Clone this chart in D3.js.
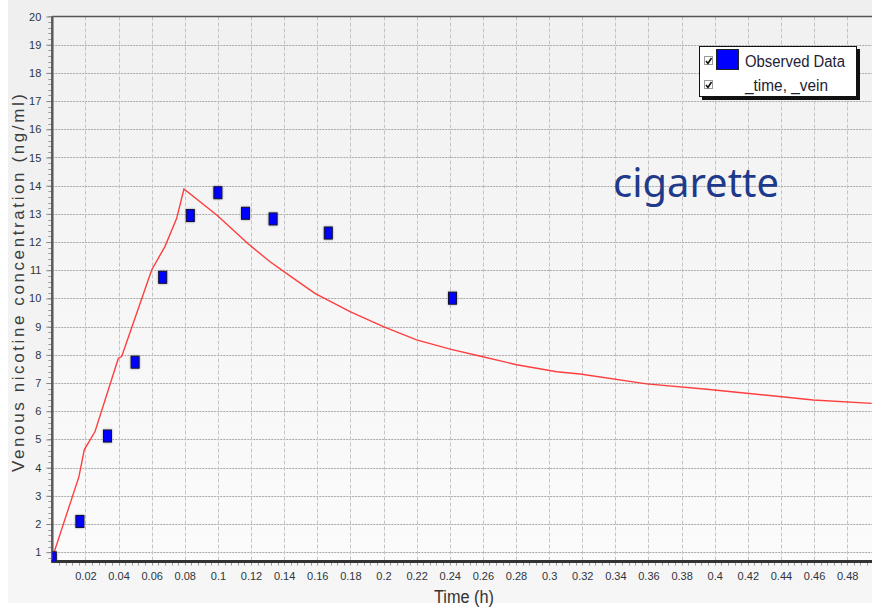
<!DOCTYPE html>
<html>
<head>
<meta charset="utf-8">
<script src="https://cdn.jsdelivr.net/npm/d3@7"></script>
<style>
  html, body { margin: 0; padding: 0; background: #ffffff; }
  svg { display: block; }
</style>
</head>
<body>
<svg id="chart" width="872" height="609"></svg>
<script>
// Observed venous nicotine concentration (ng/ml) vs time (h)
const obsTime  = [0, 1/60, 2/60, 3/60, 4/60, 5/60, 6/60, 7/60, 8/60, 10/60, 14.5/60];
const obsConc  = [0.8, 2.09, 5.12, 7.74, 10.75, 12.94, 13.75, 13.02, 12.82, 12.32, 10.01];

// Simulated curve (_time, _vein)
const simTime = [0, 0.0161, 0.0193, 0.0258, 0.0399, 0.0419, 0.060, 0.068, 0.0751, 0.0795,
                 0.0993, 0.1184, 0.1315, 0.1435, 0.1586, 0.1798, 0.1999, 0.22, 0.2402,
                 0.2593, 0.2804, 0.3046, 0.3187, 0.3589, 0.3952, 0.4193, 0.4595, 0.4948];
const simConc = [0.8, 3.68, 4.63, 5.28, 7.88, 7.94, 11.01, 11.84, 12.84, 13.88,
                 12.96, 11.93, 11.30, 10.80, 10.18, 9.53, 9.00, 8.53, 8.20,
                 7.94, 7.65, 7.40, 7.32, 6.97, 6.78, 6.64, 6.40, 6.28];

const yTicks = d3.range(1, 21);
const xTicks = d3.range(1, 25).map(i => +(i * 0.02).toFixed(2));
const xTickLabels = xTicks.map(v => String(v));

const legendLabels = ["Observed Data", "_time, _vein"];
const yTitle = "Venous nicotine concentration (ng/ml)";
const xTitle = "Time (h)";
const note = "cigarette";

const svg = d3.select("#chart");
const W = 872, H = 609;
const pLeft = 52.3, pTop = 16.5, pBottom = 561.5;

const x = d3.scaleLinear().domain([0, 0.5]).range([pLeft, pLeft + 0.5 * 1656]);
const y = d3.scaleLinear().domain([0.67, 20]).range([pBottom, pTop]);

// backgrounds
const defs = svg.append("defs");
const og = defs.append("linearGradient").attr("id", "outerBg").attr("x1", 0).attr("y1", 0).attr("x2", 0).attr("y2", 1);
og.append("stop").attr("offset", "0%").attr("stop-color", "#efefef");
og.append("stop").attr("offset", "100%").attr("stop-color", "#f6f6f6");
const pg = defs.append("linearGradient").attr("id", "plotBg").attr("x1", 0).attr("y1", 0).attr("x2", 0).attr("y2", 1);
pg.append("stop").attr("offset", "0%").attr("stop-color", "#f1f1f1");
pg.append("stop").attr("offset", "100%").attr("stop-color", "#fbfbfb");
defs.append("clipPath").attr("id", "plotClip")
  .append("rect").attr("x", pLeft).attr("y", pTop).attr("width", W - pLeft).attr("height", pBottom - pTop);

svg.append("rect").attr("x", 0).attr("y", 0).attr("width", W).attr("height", H).attr("fill", "#ffffff");
svg.append("rect").attr("x", 8).attr("y", 0).attr("width", W - 8).attr("height", 603).attr("fill", "url(#outerBg)");
svg.append("rect").attr("x", pLeft).attr("y", pTop).attr("width", W - pLeft).attr("height", pBottom - pTop)
  .attr("fill", "url(#plotBg)");

// grid
const grid = svg.append("g");
grid.selectAll(".hg").data(yTicks.filter(v => v < 20)).join("line")
  .attr("x1", pLeft).attr("x2", W)
  .attr("y1", d => Math.round(y(d)) + 0.5).attr("y2", d => Math.round(y(d)) + 0.5)
  .attr("stroke", "#a8a8a8").attr("stroke-width", 1).attr("stroke-dasharray", "2,1");
grid.selectAll(".vg").data(xTicks).join("line")
  .attr("x1", d => Math.round(x(d)) + 0.5).attr("x2", d => Math.round(x(d)) + 0.5)
  .attr("y1", pTop).attr("y2", pBottom)
  .attr("stroke", "#c4c4c4").attr("stroke-width", 1).attr("stroke-dasharray", "4,2");

// minor ticks
const yMinor = d3.range(0.8, 20.001, 0.2);
svg.append("g").selectAll("line").data(yMinor).join("line")
  .attr("x1", pLeft - 4).attr("x2", pLeft)
  .attr("y1", d => Math.round(y(d)) + 0.5).attr("y2", d => Math.round(y(d)) + 0.5)
  .attr("stroke", "#9a9a9a").attr("stroke-width", 1);
const xMinor = d3.range(0.004, 0.5, 0.004);
svg.append("g").selectAll("line").data(xMinor).join("line")
  .attr("x1", d => Math.round(x(d)) + 0.5).attr("x2", d => Math.round(x(d)) + 0.5)
  .attr("y1", pBottom).attr("y2", pBottom + 4)
  .attr("stroke", "#9a9a9a").attr("stroke-width", 1);

// axes
const yAxis = d3.axisLeft(y).tickValues(yTicks).tickSize(6).tickFormat(d3.format("d"));
const yg = svg.append("g").attr("transform", `translate(${pLeft},0)`).call(yAxis);
yg.select(".domain").remove();
yg.selectAll(".tick line").attr("stroke", "#888");
yg.selectAll(".tick text").attr("x", -11).attr("fill", "#2e3440")
  .style("font-family", "Liberation Sans, Arial, sans-serif").style("font-size", "11px");

const xAxis = d3.axisBottom(x).tickValues(xTicks).tickSize(0).tickFormat((d, i) => xTickLabels[i]);
const xg = svg.append("g").attr("transform", `translate(0,${pBottom})`).call(xAxis);
xg.select(".domain").remove();
xg.selectAll(".tick text").attr("y", 11).attr("fill", "#2e3440")
  .style("font-family", "Liberation Sans, Arial, sans-serif").style("font-size", "11px");

svg.append("line").attr("x1", pLeft).attr("x2", W).attr("y1", pTop).attr("y2", pTop)
  .attr("stroke", "#555").attr("stroke-width", 1.5);
svg.append("line").attr("x1", pLeft).attr("x2", pLeft).attr("y1", pTop).attr("y2", pBottom + 1)
  .attr("stroke", "#5a5a5a").attr("stroke-width", 2.5);
svg.append("line").attr("x1", pLeft - 1).attr("x2", W).attr("y1", pBottom).attr("y2", pBottom)
  .attr("stroke", "#333").attr("stroke-width", 3);

// simulated curve
const plot = svg.append("g").attr("clip-path", "url(#plotClip)");
const line = d3.line().x((d, i) => x(simTime[i])).y((d, i) => y(simConc[i]));
plot.append("path").datum(simConc).attr("d", line)
  .attr("fill", "none").attr("stroke", "#ff2a2a").attr("stroke-opacity", 0.9).attr("stroke-width", 1.4);

// observed markers
plot.selectAll(".obs").data(obsConc).join("rect")
  .attr("x", (d, i) => x(obsTime[i]) - 4).attr("y", d => y(d) - 6)
  .attr("width", 8).attr("height", 12)
  .attr("fill", "#0000ff").attr("stroke", "#101030").attr("stroke-width", 1)
  .style("filter", "drop-shadow(0 0 1px rgba(120,120,120,0.8))");

// axis titles
svg.append("text").attr("transform", "translate(24,283) rotate(-90)")
  .attr("text-anchor", "middle").attr("textLength", 378).attr("lengthAdjust", "spacing")
  .attr("fill", "#3c3c3c").style("font-family", "Liberation Sans, Arial, sans-serif").style("font-size", "17px")
  .text(yTitle);
svg.append("text").attr("x", 464).attr("y", 603).attr("text-anchor", "middle")
  .attr("textLength", 60).attr("lengthAdjust", "spacingAndGlyphs")
  .attr("fill", "#333").style("font-family", "Liberation Sans, Arial, sans-serif").style("font-size", "18px")
  .text(xTitle);

// annotation
svg.append("text").attr("x", 613).attr("y", 197)
  .attr("textLength", 166).attr("lengthAdjust", "spacingAndGlyphs")
  .attr("fill", "#1f3a8a").style("font-family", "Noto Sans, Open Sans, sans-serif").style("font-size", "40px")
  .text(note);

// legend
const lg = svg.append("g");
lg.append("rect").attr("x", 702).attr("y", 49).attr("width", 158).attr("height", 51).attr("fill", "#111");
lg.append("rect").attr("x", 699.5).attr("y", 46.5).attr("width", 157).attr("height", 50)
  .attr("fill", "#fff").attr("stroke", "#111").attr("stroke-width", 1);
const rowsY = [61, 85];
rowsY.forEach((cy, i) => {
  lg.append("rect").attr("x", 704.5).attr("y", cy - 4.5).attr("width", 8).attr("height", 8)
    .attr("fill", "#fff").attr("stroke", "#9a9a9a");
  lg.append("path").attr("d", `M${706},${cy} L${708},${cy + 2.5} L${711.5},${cy - 3}`)
    .attr("fill", "none").attr("stroke", "#111").attr("stroke-width", 1.6);
  lg.append("text").attr("x", 745).attr("y", cy + 5.5)
    .attr("textLength", i === 0 ? 100 : 83).attr("lengthAdjust", "spacingAndGlyphs")
    .attr("fill", "#1e2233").style("font-family", "Liberation Sans, Arial, sans-serif").style("font-size", "16px")
    .text(legendLabels[i]);
});
lg.append("rect").attr("x", 716.5).attr("y", 49.5).attr("width", 22).attr("height", 20)
  .attr("fill", "#0000ff").attr("stroke", "#222").attr("stroke-width", 1);
</script>
</body>
</html>
